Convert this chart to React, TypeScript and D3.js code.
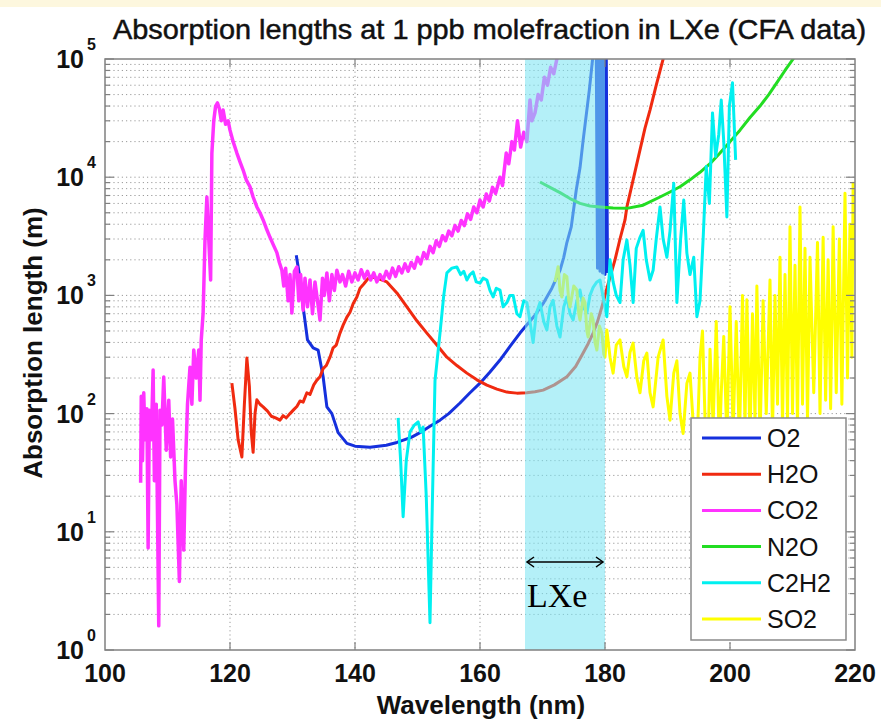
import React from "react";
import * as d3 from "d3";

const TITLE = "Absorption lengths at 1 ppb molefraction in LXe (CFA data)";
const X_LABEL = "Wavelength (nm)";
const Y_LABEL = "Absorption length (m)";
const X_TICKS = [100, 120, 140, 160, 180, 200, 220];
const Y_DECADES = [0, 1, 2, 3, 4, 5];
const LXE_BAND = [167.2, 180.0];

const O2: [number, number][] = [
  [130.6, 2190], [131.1, 1500], [131.7, 800], [132.4, 420], [133.3, 360], [134.1, 345], [134.9, 205],
  [135.5, 114], [136.3, 100], [137.3, 69], [138.7, 56], [140, 53], [142.4, 52], [145, 54], [146.7, 57],
  [149, 63], [150.4, 69], [152, 78], [153.6, 88], [155, 100], [156.8, 123], [158.4, 150], [160, 181],
  [161.6, 225], [163.2, 284], [164.8, 370], [166.4, 480], [167.2, 540], [168.8, 680], [170.2, 870],
  [171.5, 1150], [172.8, 1630], [173.4, 2100], [173.9, 2800], [174.6, 3800], [175.4, 7800], [176, 12000],
  [176.5, 20500], [177.5, 55000], [178.1, 110000], [178.6, 120000], [178.8, 1700], [179.0, 120000],
  [179.2, 1600], [179.4, 120000], [179.6, 1550], [179.8, 120000], [180.0, 1500], [180.2, 120000],
  [180.4, 1550],
];

const H2O: [number, number][] = [
  [120.3, 181], [120.8, 110], [121.3, 60], [121.9, 43], [122.3, 120], [122.7, 295], [123.1, 170],
  [123.4, 70], [123.7, 47], [124.0, 100], [124.3, 131], [124.8, 120], [125.3, 114], [126, 105],
  [126.6, 95], [127.3, 92], [128, 88], [128.5, 96], [129, 92], [129.6, 100], [130.2, 108], [130.7, 115],
  [131.2, 128], [131.7, 125], [132.3, 150], [132.8, 145], [133.4, 175], [133.9, 192], [134.4, 205],
  [134.9, 240], [135.4, 255], [136, 300], [136.5, 360], [137, 380], [137.6, 480], [138.1, 560],
  [138.7, 655], [139.2, 720], [139.7, 850], [140.3, 970], [140.8, 1150], [141.4, 1250], [141.9, 1350],
  [142.4, 1440], [143.5, 1400], [145.1, 1300], [146.7, 1050], [148.3, 800], [149.9, 610], [151.5, 480],
  [153.1, 380], [154.7, 300], [156.3, 255], [157.9, 220], [159.5, 193], [161.1, 174], [162.7, 161],
  [164.3, 152], [165.9, 149], [167.5, 150], [168.8, 153], [170.1, 158], [171.9, 175], [173.9, 205],
  [175.3, 250], [176.5, 325], [177.3, 390], [178.1, 480], [178.8, 600], [179.5, 800], [180.5, 1250],
  [181.6, 2000], [182.4, 3000], [183.2, 4350], [183.5, 5600], [184.5, 9500], [185.6, 17000],
  [186.4, 26000], [187.2, 37000], [188.2, 60000], [189.3, 100000], [189.6, 120000],
];

const CO2: [number, number][] = [
  [105.7, 26], [105.8, 140], [106.0, 40], [106.2, 150], [106.4, 60], [106.7, 110], [106.9, 7.3],
  [107.1, 107], [107.4, 60], [107.7, 234], [107.9, 27], [108.2, 120], [108.6, 1.6], [108.8, 107],
  [109.1, 80], [109.4, 204], [109.8, 49], [110.2, 130], [110.5, 43], [110.8, 90], [111.2, 27],
  [111.5, 17], [111.9, 3.8], [112.2, 27], [112.6, 7], [112.9, 40], [113.2, 120], [113.6, 247],
  [113.9, 120], [114.2, 345], [114.6, 200], [115.0, 345], [115.2, 130], [115.4, 420], [115.7, 710],
  [116.0, 2950], [116.3, 6800], [116.6, 3000], [116.9, 1350], [117.1, 16000], [117.4, 30000],
  [117.7, 40000], [118.0, 42500], [118.3, 38000], [118.6, 30000], [118.9, 37000], [119.3, 28000],
  [119.7, 30000], [120.0, 25000], [120.5, 20000], [121.1, 16000], [121.6, 13500], [122.1, 11500],
  [122.6, 9500], [123.2, 8300], [123.7, 6800], [124.3, 5600], [124.8, 5000], [125.3, 4350],
  [125.8, 3700], [126.4, 3100], [126.9, 2700], [127.5, 2300], [127.9, 1900], [128.3, 1630],
  [128.6, 1200], [128.9, 1700], [129.3, 900], [129.6, 1500], [129.9, 710], [130.3, 1600],
  [130.7, 1740], [131.0, 900], [131.3, 1500], [131.7, 750], [132.0, 1400], [132.4, 800], [132.8, 1350],
  [133.2, 700], [133.6, 1300], [134.0, 900], [134.4, 620], [134.8, 1400], [135.1, 1000], [135.5, 1550],
  [135.9, 900], [136.3, 1500], [136.7, 1100], [137.1, 1630], [137.6, 1300], [138.0, 1500],
  [138.5, 1200], [139.0, 1600], [139.5, 1300], [140.0, 1550], [140.5, 1350], [141.0, 1650],
  [141.5, 1400], [142.0, 1600], [142.5, 1350], [143.0, 1550], [143.5, 1300], [144.0, 1500],
  [144.5, 1350], [145.0, 1600], [145.5, 1400], [146.0, 1700], [146.5, 1450], [147.0, 1750],
  [147.5, 1550], [148.0, 1850], [148.5, 1600], [149.0, 1900], [149.5, 1700], [150.0, 2100],
  [150.5, 1850], [151.0, 2300], [151.5, 2050], [152.0, 2600], [152.5, 2300], [153.0, 2900],
  [153.5, 2600], [154.0, 3200], [154.5, 2900], [155.0, 3500], [155.5, 3200], [156.0, 3900],
  [156.5, 3500], [157.0, 4300], [157.5, 3900], [158.0, 4900], [158.5, 4400], [159.0, 5600],
  [159.5, 5000], [160.0, 6400], [160.5, 5600], [161.0, 7200], [161.5, 6300], [162.0, 8200],
  [162.5, 7300], [163.2, 10000], [163.6, 8500], [164.2, 16000], [164.6, 13000], [165.1, 20000],
  [165.5, 17000], [166.0, 30000], [166.5, 18000], [167.0, 24000], [167.5, 20000], [168.0, 45000],
  [168.3, 30000], [168.8, 35000], [169.3, 50000], [169.8, 45000], [170.3, 70000], [170.8, 60000],
  [171.3, 85000], [171.8, 75000], [172.3, 100000], [173.0, 120000],
];

const N2O: [number, number][] = [
  [169.6, 9100], [171.2, 8200], [172.8, 7400], [174.4, 6600], [176, 6000], [177.6, 5700], [179.2, 5600],
  [181.3, 5500], [183.5, 5450], [186.1, 5800], [188.8, 6800], [190.4, 7500], [192, 8300], [193.6, 9500],
  [195.2, 11000], [196.8, 13000], [198.4, 16000], [200, 20000], [201.6, 25000], [203.2, 32000],
  [204.8, 40000], [206.2, 50000], [207.5, 63000], [208.8, 80000], [210.1, 100000], [210.5, 110000],
];

const C2H2: [number, number][] = [
  [146.9, 92], [147.3, 40], [147.7, 13.4], [148.2, 40], [148.8, 70], [149.5, 80], [150.1, 85],
  [150.5, 70], [150.9, 77], [151.4, 20], [152.0, 1.7], [152.4, 20], [152.8, 190], [153.6, 480],
  [154.2, 1000], [154.7, 1550], [155.5, 1700], [156.3, 1740], [156.9, 1500], [157.4, 1600],
  [157.9, 1350], [158.4, 1500], [158.9, 1580], [159.4, 1300], [160.0, 1270], [160.5, 1400],
  [161.1, 1350], [161.6, 1100], [162.1, 970], [162.6, 1150], [163.2, 1110], [163.7, 800], [164.3, 870],
  [164.8, 1000], [165.3, 1000], [165.9, 700], [166.4, 660], [167.0, 900], [167.5, 870], [168.0, 600],
  [168.5, 400], [169.0, 700], [169.6, 870], [170.2, 600], [170.7, 510], [171.2, 800], [171.7, 910],
  [172.3, 550], [172.8, 445], [173.4, 800], [173.9, 970], [174.4, 700], [174.9, 620], [175.5, 900],
  [176.0, 1110], [176.5, 800], [177.1, 710], [177.6, 1000], [178.1, 1170], [178.7, 1300],
  [179.2, 1350], [179.8, 900], [180.3, 660], [180.8, 2000], [181.3, 1300], [181.8, 1000],
  [182.4, 870], [182.9, 2000], [183.5, 2950], [184.0, 1800], [184.5, 870], [185.0, 2500],
  [185.6, 3100], [186.1, 3550], [186.6, 2000], [187.2, 1350], [187.7, 1630], [188.2, 3000],
  [188.8, 5600], [189.3, 3000], [189.9, 2100], [190.4, 3500], [191.0, 8900], [191.5, 870],
  [192.1, 3000], [192.6, 6400], [193.1, 2280], [193.6, 1500], [194.2, 2100], [194.7, 660],
  [195.2, 900], [195.7, 3000], [196.2, 12300], [196.7, 6000], [197.2, 35000], [197.7, 15000],
  [198.2, 23000], [198.6, 45000], [199.0, 20000], [199.5, 4600], [199.9, 40000], [200.4, 63000],
  [200.9, 14000],
];

const SO2: [number, number][] = [
  [172.0, 1300], [172.5, 1750], [172.8, 1100], [173.1, 970], [173.5, 1500], [173.9, 1440], [174.2, 900],
  [174.4, 800], [175.0, 1200], [175.5, 1110], [175.8, 700], [176.0, 620], [176.5, 950], [176.8, 870],
  [177.1, 500], [177.3, 445], [177.8, 700], [178.1, 620], [178.4, 400], [178.7, 345], [179.1, 550],
  [179.5, 480], [179.8, 320], [180.0, 300], [180.3, 510], [180.8, 300], [181.3, 220], [181.8, 380],
  [182.4, 420], [183.0, 250], [183.5, 205], [184.0, 330], [184.5, 395], [185.1, 200], [185.6, 150],
  [186.2, 280], [186.7, 325], [187.2, 150], [187.7, 114], [188.5, 300], [189.3, 420], [189.9, 140],
  [190.4, 88], [191.0, 220], [191.5, 280], [192.0, 100], [192.5, 68], [193.1, 180], [193.6, 220],
  [194.2, 70], [194.7, 46], [195.2, 300], [195.6, 500], [196.1, 60], [196.5, 45], [196.8, 350],
  [197.3, 80], [197.8, 600], [198.3, 50], [198.6, 150], [199.0, 450], [199.5, 60], [200.0, 800],
  [200.5, 70], [201.0, 600], [201.5, 55], [202.0, 1000], [202.4, 80], [202.7, 920], [203.2, 60],
  [203.6, 700], [204.0, 90], [204.3, 1200], [204.8, 60], [205.3, 900], [205.8, 100], [206.4, 1350],
  [206.8, 70], [207.2, 1000], [207.6, 120], [208.0, 2100], [208.4, 80], [208.8, 1500], [209.2, 90],
  [209.6, 3800], [210.0, 100], [210.4, 1800], [210.8, 80], [211.2, 5600], [211.6, 120], [212.0, 2500],
  [212.4, 90], [212.8, 2100], [213.4, 150], [214.0, 2800], [214.4, 100], [214.9, 3100], [215.3, 130],
  [215.7, 2000], [216.1, 110], [216.5, 3800], [217.0, 150], [217.5, 3000], [217.9, 120], [218.4, 7300],
  [218.8, 200], [219.2, 4000], [219.5, 300], [219.7, 8900], [220.0, 2000],
];

const SERIES_NAMES = ["O2", "H2O", "CO2", "N2O", "C2H2", "SO2"];
const SERIES_DATA = [O2, H2O, CO2, N2O, C2H2, SO2];
const SERIES_COLORS = ["#1530dd", "#f02a10", "#ff33ff", "#22dd22", "#00f0f0", "#ffff00"];

export default function App() {
  const W = 881, H = 723;
  const L = 105, R = 855, T = 59, B = 650;
  const x = d3.scaleLinear().domain([100, 220]).range([L, R]);
  const y = d3.scaleLog().domain([1, 1e5]).range([B, T]);
  const line = d3.line<[number, number]>().x((d) => x(d[0])).y((d) => y(d[1]));

  const minorVals: number[] = [];
  for (let e = 0; e < 5; e++) for (let k = 2; k <= 9; k++) minorVals.push(k * Math.pow(10, e));
  const majorVals = Y_DECADES.map((e) => Math.pow(10, e));
  const sans = "'Liberation Sans', Arial, Helvetica, sans-serif";

  return (
    <svg width={W} height={H} style={{ position: "absolute", left: 0, top: 0, display: "block", background: "#fff" }}>
      <rect x={0} y={0} width={W} height={H} fill="#ffffff" />
      <rect x={0} y={0} width={W} height={7} fill="#fdf7de" />
      <defs>
        <clipPath id="plot">
          <rect x={L} y={T} width={R - L} height={B - T} />
        </clipPath>
      </defs>
      <text x={113} y={39} fontFamily={sans} fontSize={28} stroke="#111" strokeWidth={0.5} textLength={753} lengthAdjust="spacingAndGlyphs" fill="#111">
        {TITLE}
      </text>
      {/* grid */}
      <g stroke="#9a9a9a" strokeWidth={1} strokeDasharray="1.2,3">
        {[...minorVals, ...majorVals.slice(1, 5)].map((v, i) => (
          <line key={"gy" + i} x1={L} x2={R} y1={y(v)} y2={y(v)} />
        ))}
        {X_TICKS.slice(1, -1).map((t) => (
          <line key={"gx" + t} x1={x(t)} x2={x(t)} y1={T} y2={B} />
        ))}
      </g>
      {/* series */}
      <g clipPath="url(#plot)" fill="none" strokeLinejoin="round">
        {SERIES_DATA.map((d, i) => (
          <path key={SERIES_NAMES[i]} d={line(d) || ""} stroke={SERIES_COLORS[i]} strokeWidth={i === 2 ? 3.5 : 3} />
        ))}
      </g>
      {/* LXe band */}
      <rect x={x(LXE_BAND[0])} y={T} width={x(LXE_BAND[1]) - x(LXE_BAND[0])} height={B - T} fill="rgb(123,228,242)" fillOpacity={0.57} />
      {/* axes box */}
      <rect x={L} y={T} width={R - L} height={B - T} fill="none" stroke="#808080" strokeWidth={1.5} />
      <g stroke="#808080" strokeWidth={1.2}>
        {X_TICKS.slice(1, -1).map((t) => (
          <g key={"tx" + t}>
            <line x1={x(t)} x2={x(t)} y1={B} y2={B - 8} />
            <line x1={x(t)} x2={x(t)} y1={T} y2={T + 8} />
          </g>
        ))}
        {minorVals.map((v, i) => (
          <g key={"tmy" + i}>
            <line x1={L} x2={L + 5} y1={y(v)} y2={y(v)} />
            <line x1={R} x2={R - 5} y1={y(v)} y2={y(v)} />
          </g>
        ))}
        {majorVals.map((v, i) => (
          <g key={"tMy" + i}>
            <line x1={L} x2={L + 9} y1={y(v)} y2={y(v)} />
            <line x1={R} x2={R - 9} y1={y(v)} y2={y(v)} />
          </g>
        ))}
      </g>
      {/* tick labels */}
      <g fontFamily={sans} fontWeight="bold" fill="#111">
        {X_TICKS.map((t) => (
          <text key={"lx" + t} x={x(t)} y={682} fontSize={25} textAnchor="middle">
            {t}
          </text>
        ))}
        {Y_DECADES.map((e) => (
          <g key={"ly" + e}>
            <text x={84} y={y(Math.pow(10, e)) + 9} fontSize={25} textAnchor="end">10</text>
            <text x={87} y={y(Math.pow(10, e)) - 9} fontSize={16} textAnchor="start">{e}</text>
          </g>
        ))}
        <text x={481} y={714} fontSize={26} textAnchor="middle">{X_LABEL}</text>
        <text transform="translate(42,343) rotate(-90)" fontSize={26} textAnchor="middle">{Y_LABEL}</text>
      </g>
      {/* LXe arrow */}
      <g stroke="#000" strokeWidth={1.5} fill="none">
        <line x1={x(LXE_BAND[0]) + 2} x2={x(LXE_BAND[1]) - 2} y1={562} y2={562} />
        <polyline points={`${x(LXE_BAND[0]) + 9},557 ${x(LXE_BAND[0]) + 2},562 ${x(LXE_BAND[0]) + 9},567`} />
        <polyline points={`${x(LXE_BAND[1]) - 9},557 ${x(LXE_BAND[1]) - 2},562 ${x(LXE_BAND[1]) - 9},567`} />
      </g>
      <text x={527} y={607} fontFamily="'Liberation Serif', 'Times New Roman', serif" fontSize={34} fill="#000">LXe</text>
      {/* legend */}
      <rect x={691} y={418} width={155} height={222} fill="#fff" stroke="#8a8a8a" strokeWidth={1.5} />
      {SERIES_NAMES.map((n, i) => {
        const yy = 438 + i * 36.2;
        return (
          <g key={"lg" + n}>
            <line x1={702} x2={761} y1={yy} y2={yy} stroke={SERIES_COLORS[i]} strokeWidth={3} />
            <text x={767} y={yy + 9} fontFamily={sans} fontSize={25} fill="#111">{n}</text>
          </g>
        );
      })}
    </svg>
  );
}
